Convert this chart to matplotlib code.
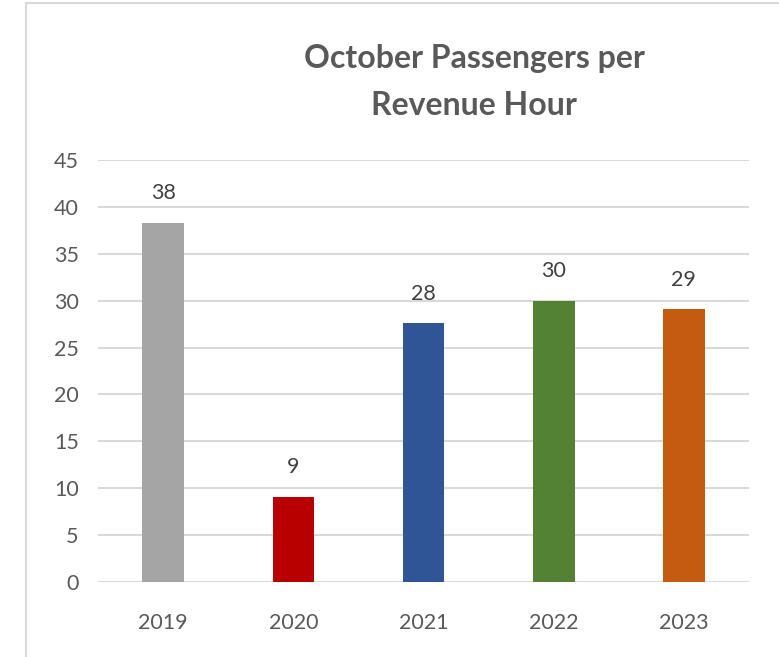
import matplotlib.pyplot as plt
from matplotlib.patches import Rectangle

# data
years = ["2019", "2020", "2021", "2022", "2023"]
passengers_per_hour = [38.3, 9.1, 27.6, 30.0, 29.1]
bar_colors = ["#A5A5A5", "#B80000", "#2F5597", "#548235", "#C55A11"]

title = "October Passengers per\nRevenue Hour"
text_color = "#595959"
grid_color = "#D9D9D9"

plt.rcParams['font.family'] = ['Lato', 'DejaVu Sans']

fig = plt.figure(figsize=(7.79, 6.57), dpi=100)
ax = fig.add_axes([0.126, 0.1142, 0.8355, 0.6423])

x = range(len(years))
rects = ax.bar(x, passengers_per_hour, width=0.32, color=bar_colors, zorder=3)
ax.bar_label(rects, fmt="%.0f", padding=14, fontsize=15.5, color="#404040")

ax.set_xlim(-0.5, len(years) - 0.5)
ax.set_ylim(0, 45)
ax.set_yticks(range(0, 46, 5))
ax.set_xticks(list(x), years)
ax.tick_params(length=0, labelsize=15.5, labelcolor=text_color)
ax.tick_params(axis='x', pad=22)
ax.tick_params(axis='y', pad=14)

ax.grid(axis='y', color=grid_color, linewidth=1.5, zorder=0)
for s in ax.spines.values():
    s.set_visible(False)

fig.text(0.609, 0.875, title, ha='center', va='center', fontsize=23,
         fontweight='bold', color=text_color, linespacing=1.75)

# outer frame of the chart area
fig.add_artist(Rectangle((26 / 779, -0.1), 1.2, 1.1 - 3 / 657,
                         transform=fig.transFigure, fill=False,
                         edgecolor=grid_color, linewidth=1.5))

fig.savefig("out.png", dpi=100)
